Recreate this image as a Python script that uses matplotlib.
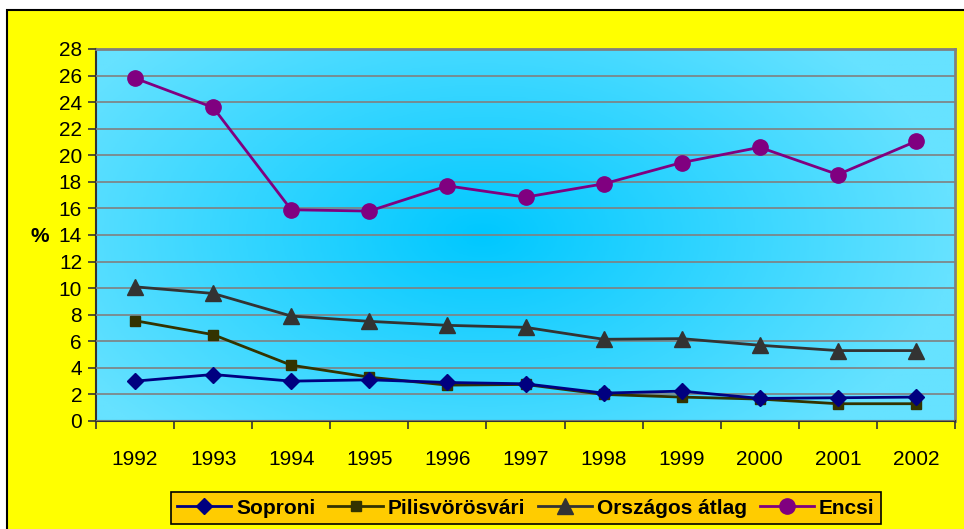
import numpy as np
import matplotlib
matplotlib.use("Agg")
import matplotlib.pyplot as plt
from matplotlib.patches import Rectangle
from matplotlib.colors import LinearSegmentedColormap

years = ["1992", "1993", "1994", "1995", "1996", "1997", "1998", "1999", "2000", "2001", "2002"]
soproni = [3.0, 3.5, 3.0, 3.1, 2.9, 2.8, 2.1, 2.25, 1.7, 1.75, 1.8]
pilis = [7.55, 6.5, 4.2, 3.3, 2.7, 2.75, 2.0, 1.8, 1.65, 1.3, 1.3]
orszagos = [10.1, 9.6, 7.9, 7.5, 7.2, 7.05, 6.15, 6.2, 5.7, 5.3, 5.3]
encsi = [25.8, 23.6, 15.9, 15.8, 17.7, 16.85, 17.85, 19.45, 20.6, 18.55, 21.05]
yticks = list(range(0, 29, 2))

plt.rcParams['font.family'] = ['Liberation Sans', 'DejaVu Sans']

W, H = 964, 529
fig = plt.figure(figsize=(W/100, H/100), dpi=100)
fig.patch.set_facecolor('white')

bg = fig.add_axes([0, 0, 1, 1], zorder=-5)
bg.set_xlim(0, W)
bg.set_ylim(H, 0)
bg.axis('off')
bg.add_patch(Rectangle((7, 10), W + 10, H + 10, facecolor='#FFFF00', edgecolor='black', linewidth=1.5))

x0, x1 = 96, 955
y0, y1 = 49, 421
ax = fig.add_axes([x0/W, 1 - y1/H, (x1-x0)/W, (y1-y0)/H], zorder=1)
ax.set_facecolor('none')

# radial gradient background
gx, gy = np.meshgrid(np.linspace(0, 1, 400), np.linspace(0, 1, 300))
cx, cy = 0.45, 0.5
r = np.sqrt(((gx-cx)/0.55)**2 + ((gy-cy)/0.75)**2)
r = np.clip(r, 0, 1)
cmap = LinearSegmentedColormap.from_list('bg', ['#00C8FF', '#66E2FF'])
ax.imshow(r, cmap=cmap, extent=[0, 1, 0, 1], transform=ax.transAxes, aspect='auto', zorder=0, origin='lower')

xs = np.arange(len(years))
ax.set_xlim(-0.5, len(years)-0.5)
ax.set_ylim(0, 28)
ax.set_yticks(yticks)
ax.set_yticklabels([str(t) for t in yticks], fontsize=15)
ax.yaxis.grid(True, color='#808080', linewidth=1.2, zorder=1)
ax.set_axisbelow(False)

ax.set_xticks(xs)
ax.set_xticklabels(years, fontsize=15)
ax.tick_params(axis='x', which='major', length=0, pad=21)
ax.set_xticks(np.arange(-0.5, len(years), 1.0), minor=True)
ax.tick_params(axis='x', which='minor', length=6, width=1.2, color='#333333')
ax.tick_params(axis='y', length=6, width=1.2, color='#333333', pad=4)

for s in ['left', 'bottom']:
    ax.spines[s].set_color('#333333')
    ax.spines[s].set_linewidth(1.5)
for s in ['top', 'right']:
    ax.spines[s].set_color('#808080')
    ax.spines[s].set_linewidth(2)

l1, = ax.plot(xs, soproni, color='#000080', marker='D', markersize=8.5, linewidth=2, label='Soproni', zorder=5)
l2, = ax.plot(xs, pilis, color='#333300', marker='s', markersize=7.5, linewidth=2, label='Pilisvörösvári', zorder=4)
l3, = ax.plot(xs, orszagos, color='#333333', marker='^', markersize=11, linewidth=2, label='Országos átlag', zorder=4)
l4, = ax.plot(xs, encsi, color='#800080', marker='o', markersize=11, linewidth=2, label='Encsi', zorder=4)
for l in (l1, l2, l3, l4):
    l.set_clip_on(False)

fig.text(40/W, 1 - 236/H, '%', fontsize=15, fontweight='bold', ha='center', va='center')

leg = fig.legend(handles=[l1, l2, l3, l4], loc='center', bbox_to_anchor=(526/W, 1 - 508/H),
                 ncol=4, frameon=True, fancybox=False, prop={'weight': 'bold', 'size': 15},
                 handlelength=2.6, handletextpad=0.25, columnspacing=0.6, borderpad=0.3,
                 borderaxespad=0)
leg.get_frame().set_facecolor('#FFCC00')
leg.get_frame().set_edgecolor('black')
leg.get_frame().set_linewidth(1.2)
leg.get_frame().set_alpha(1)

fig.savefig('out.png', dpi=100)
